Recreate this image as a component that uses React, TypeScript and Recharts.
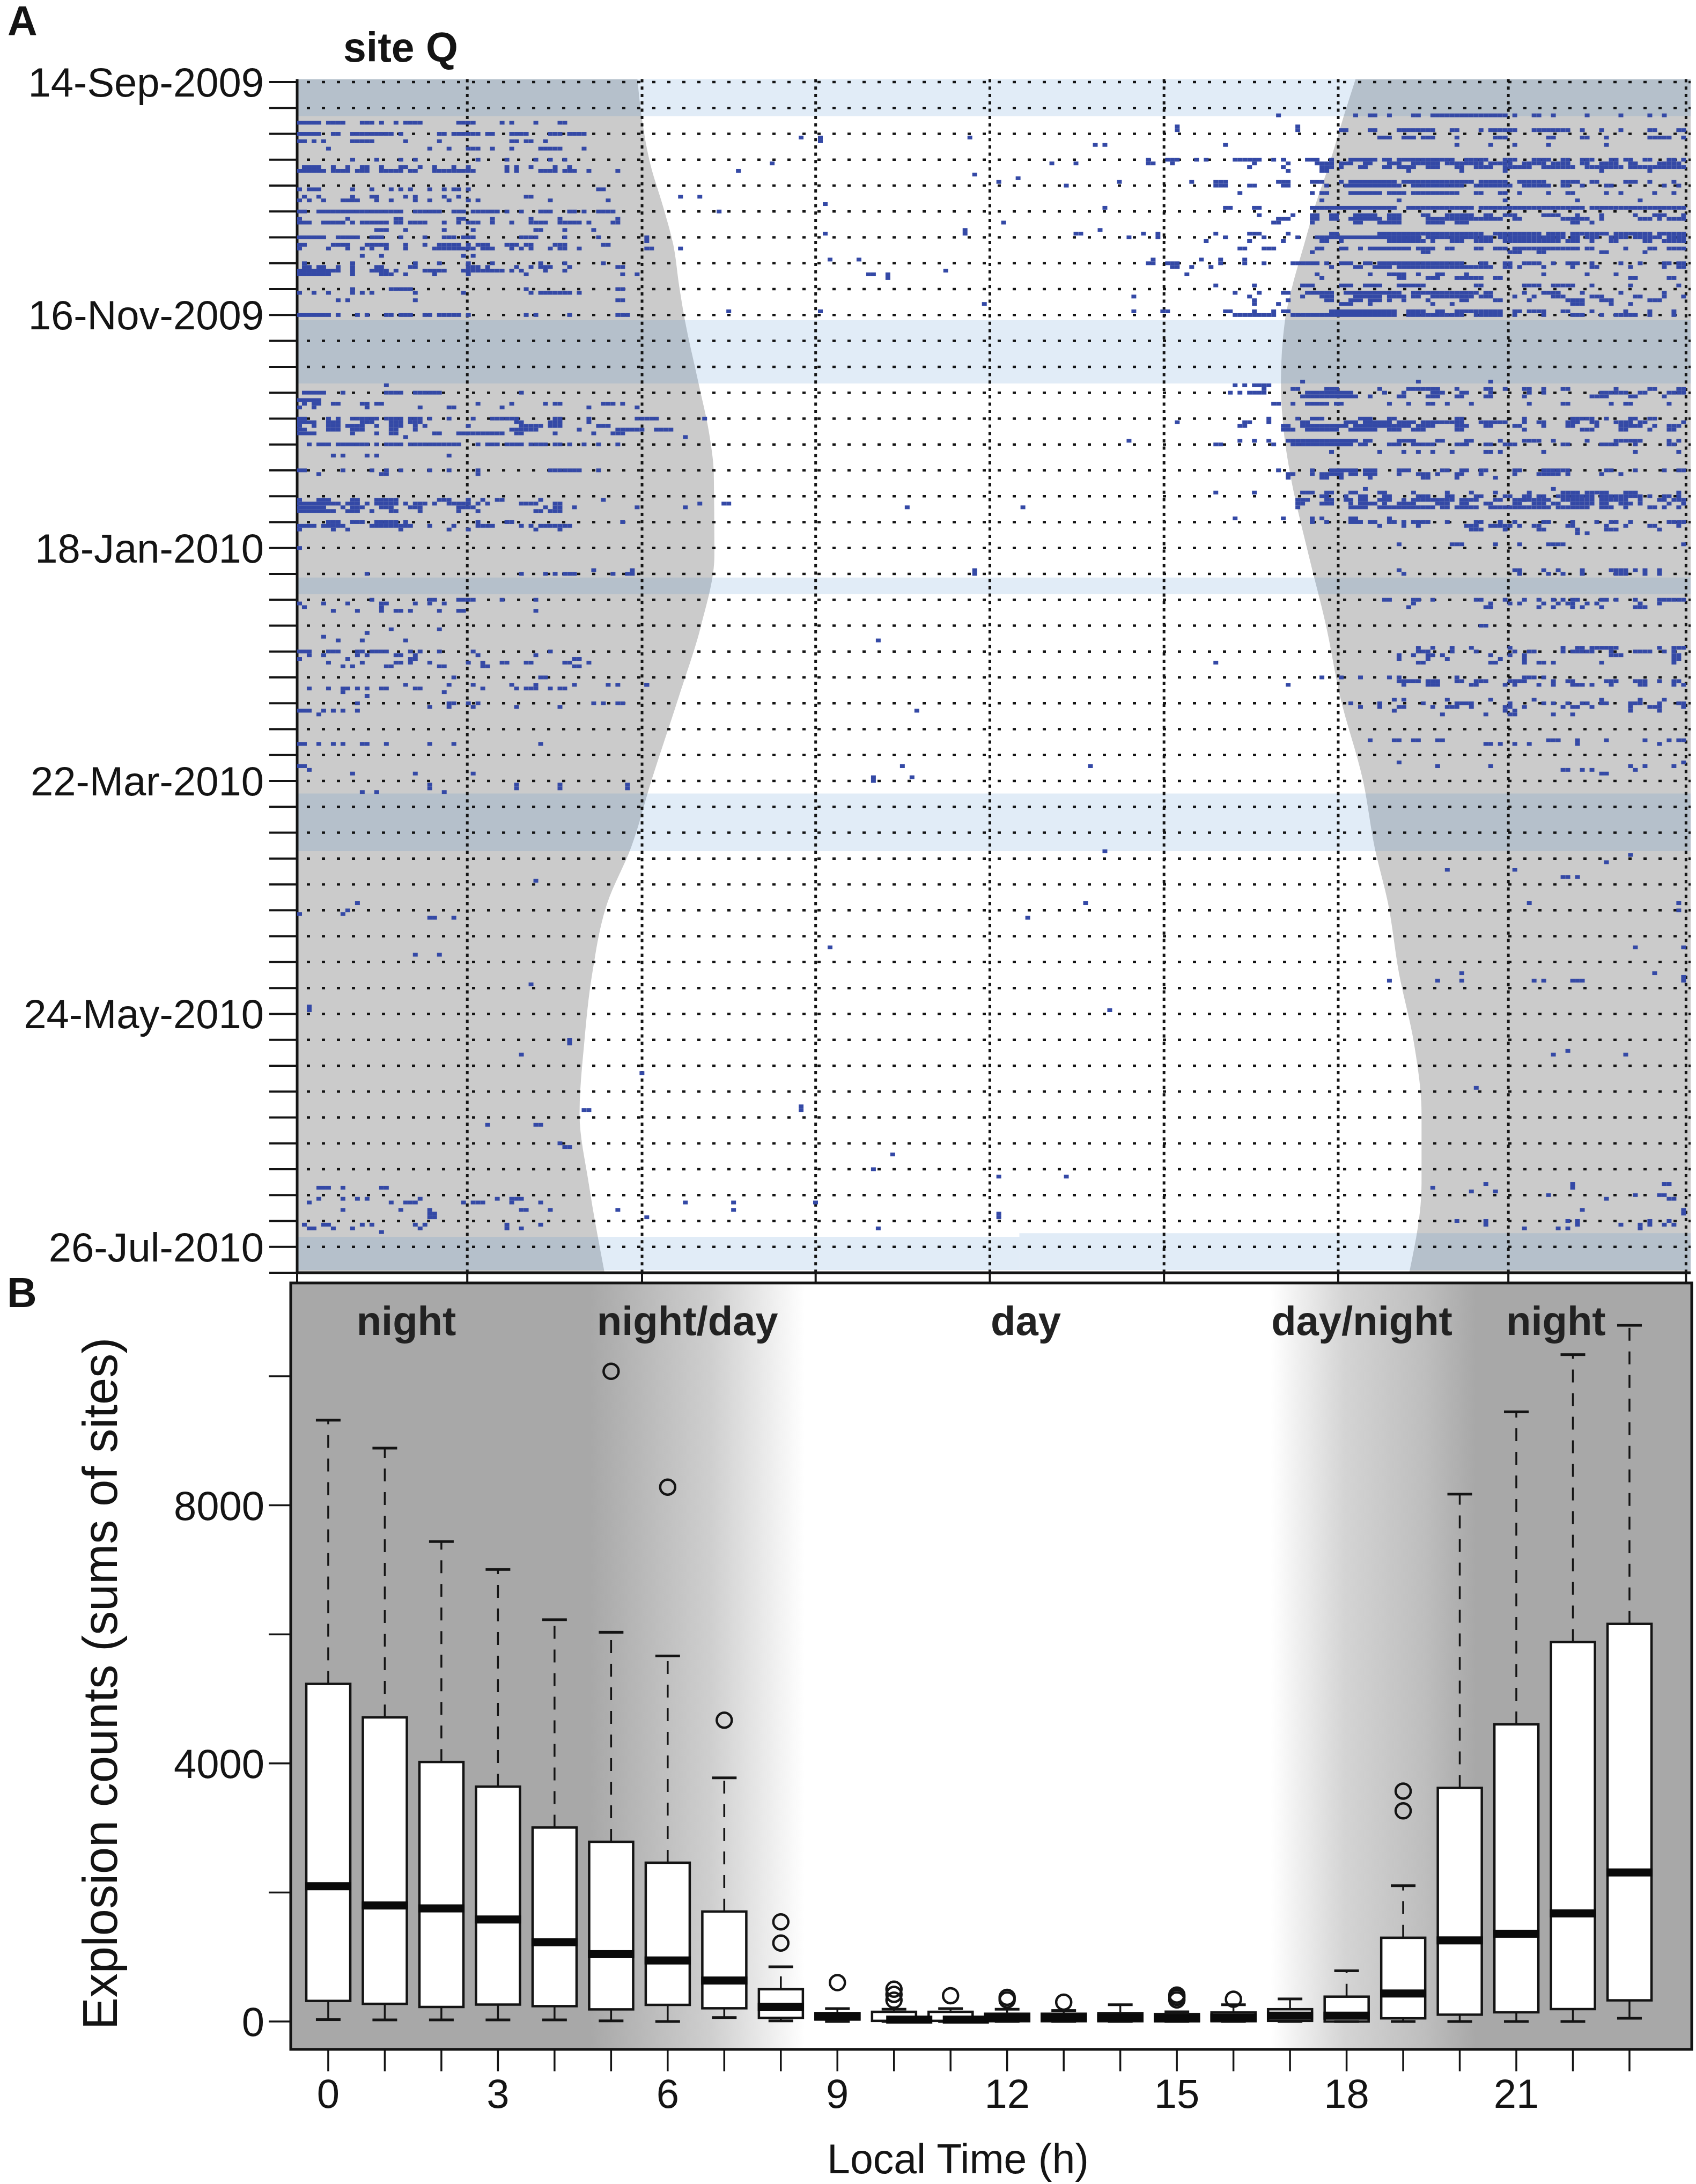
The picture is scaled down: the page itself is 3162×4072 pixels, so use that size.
import {
  Area,
  Bar,
  ComposedChart,
  ReferenceArea,
  ReferenceDot,
  ReferenceLine,
  Scatter,
  XAxis,
  YAxis,
} from "recharts";

const FONT = '"Liberation Sans", Arial, sans-serif';
const INK = "#141414";

// panel A: days since 14-Sep-2009 on y, local hour on x
const dateLabels: Record<number, string> = {
  0: "14-Sep-2009",
  63: "16-Nov-2009",
  126: "18-Jan-2010",
  189: "22-Mar-2010",
  252: "24-May-2010",
  315: "26-Jul-2010",
};
const weekTicks = [
  0, 7, 14, 21, 28, 35, 42, 49, 56, 63, 70, 77, 84, 91, 98, 105, 112, 119, 126, 133, 140, 147, 154,
  161, 168, 175, 182, 189, 196, 203, 210, 217, 224, 231, 238, 245, 252, 259, 266, 273, 280, 287, 294,
  301, 308, 315, 322,
];
const hourTicksA = [0, 2.94, 5.96, 8.96, 11.97, 14.98, 17.99, 20.93, 24];

const nightDays = [-0.8, 9, 22, 34, 44, 55, 64.4, 81, 96, 106, 128, 147, 166, 189, 207, 222, 241, 260, 279, 298, 321.8];
const sunrise = [5.88, 5.95, 6.1, 6.33, 6.5, 6.6, 6.7, 6.93, 7.13, 7.2, 7.21, 6.98, 6.6, 6.12, 5.77, 5.36, 5.1, 4.96, 4.88, 5.04, 5.31];
const sunset = [18.29, 18.09, 17.84, 17.58, 17.4, 17.2, 17.07, 17.0, 17.06, 17.16, 17.48, 17.78, 18.02, 18.42, 18.62, 18.85, 19.04, 19.3, 19.43, 19.43, 19.22];

// recording gaps: [first day, last day, first hour, last hour]
const gapBands = [
  [-0.8, 9.2, 0, 24.08],
  [64.4, 81.5, 0, 24.08],
  [134, 138.5, 0, 24.08],
  [192.4, 208, 0, 24.08],
  [312.3, 321.3, 0, 12.48],
  [311.3, 321.3, 12.48, 24.08],
];

// explosions per 5-min bin: [day, startBin, runLength, startBin, runLength, ...]
const eveningRuns = [
  [9, 203, 1, 219, 1, 222, 2, 226, 1, 231, 2, 235, 16, 252, 1, 256, 2, 260, 1, 267, 1, 274, 1, 280, 1, 283, 1],
  [12, 182, 1, 207, 1],
  [13, 182, 1, 207, 1, 216, 2, 222, 2, 228, 8, 239, 2, 245, 1, 247, 6, 256, 8, 266, 1, 270, 1, 274, 1, 280, 2, 286, 2],
  [15, 224, 3, 229, 3, 233, 3, 240, 1, 248, 3, 259, 2, 266, 2, 271, 1, 280, 5, 287, 1],
  [17, 192, 1, 240, 1, 247, 1, 252, 1, 259, 1, 271, 1],
  [21, 176, 1, 180, 3, 186, 1, 188, 1, 194, 4, 198, 2, 202, 1, 204, 1, 209, 3, 214, 1, 218, 6, 225, 2, 228, 12, 242, 5, 250, 3, 256, 4, 262, 2, 266, 3, 272, 2, 275, 2, 279, 2, 284, 2, 287, 1],
  [22, 176, 2, 181, 1, 198, 1, 205, 1, 211, 4, 216, 3, 221, 2, 226, 3, 231, 6, 238, 8, 247, 5, 254, 5, 260, 4, 266, 2, 270, 4, 276, 2, 282, 5],
  [23, 197, 1, 204, 1, 212, 3, 216, 1, 220, 2, 225, 2, 228, 4, 234, 3, 240, 2, 244, 4, 250, 6, 258, 7, 267, 8, 276, 10, 286, 2],
  [24, 205, 1, 212, 2, 230, 1, 241, 1, 250, 1, 270, 1, 280, 1],
  [27, 185, 1, 190, 3, 203, 3, 210, 3, 216, 1, 218, 10, 229, 15, 245, 6, 253, 5, 258, 1, 262, 4, 268, 2, 275, 3, 280, 1, 285, 1],
  [28, 190, 3, 197, 2, 204, 2, 213, 1, 217, 12, 231, 11, 244, 8, 254, 6, 262, 2, 266, 1, 271, 2, 283, 1, 286, 1],
  [30, 195, 1, 210, 1, 212, 2, 218, 7, 226, 4, 231, 10, 244, 2, 249, 2, 253, 1, 259, 1, 263, 2, 271, 1, 274, 1, 281, 1, 285, 1],
  [32, 212, 1, 228, 1, 250, 1, 265, 1, 278, 1],
  [34, 192, 2, 198, 2, 210, 2, 212, 16, 230, 14, 245, 22, 268, 20],
  [36, 199, 1, 206, 1, 210, 2, 214, 2, 219, 5, 226, 3, 233, 2, 238, 6, 246, 2, 250, 3, 258, 4, 265, 1, 270, 1, 277, 1, 281, 3, 287, 1],
  [37, 203, 3, 210, 2, 214, 2, 218, 7, 226, 3, 234, 16, 252, 2, 262, 6, 270, 1, 278, 3, 282, 1, 284, 4],
  [38, 202, 2, 210, 1, 219, 2, 224, 5, 234, 4, 240, 3, 264, 2, 268, 1],
  [41, 175, 1, 178, 1, 190, 1, 197, 3, 205, 1, 214, 2, 224, 8, 232, 14, 248, 10, 259, 4, 264, 8, 273, 3, 276, 5, 282, 6],
  [42, 172, 1, 178, 1, 192, 1, 200, 1, 207, 1, 211, 22, 234, 14, 249, 14, 264, 2, 267, 3, 272, 4, 277, 6, 284, 4],
  [43, 188, 1, 197, 1, 204, 1, 212, 2, 216, 1, 226, 8, 235, 1, 239, 3, 244, 4, 250, 12, 263, 3, 268, 1, 272, 2, 279, 2, 283, 5],
  [45, 195, 2, 200, 3, 211, 2, 216, 2, 220, 1, 222, 9, 232, 4, 238, 2, 244, 2, 248, 3, 252, 14, 267, 2, 275, 1, 280, 2, 284, 4],
  [46, 210, 1, 233, 2, 251, 3, 257, 2, 270, 2, 279, 1],
  [48, 177, 1, 187, 1, 191, 1, 196, 1],
  [49, 176, 2, 180, 3, 191, 1, 196, 1, 200, 1, 206, 6, 213, 1, 216, 3, 221, 2, 224, 18, 245, 2, 250, 2, 254, 4, 260, 1, 263, 3, 268, 1, 274, 1, 278, 1, 283, 2, 286, 2],
  [50, 181, 2, 185, 1, 189, 1, 214, 1, 219, 2, 223, 4, 228, 20, 250, 2, 253, 1, 258, 1, 264, 1, 268, 2, 276, 1, 283, 1, 286, 2],
  [52, 184, 1, 211, 1, 222, 1, 226, 4, 232, 1, 236, 2, 242, 1, 258, 1, 267, 1, 273, 1],
  [53, 212, 1, 228, 2, 234, 3, 240, 6, 248, 2, 276, 2, 284, 2],
  [55, 190, 1, 198, 1, 208, 3, 216, 3, 221, 4, 228, 6, 244, 2, 254, 4, 260, 5, 268, 1, 276, 1, 286, 1],
  [57, 194, 1, 199, 1, 204, 2, 209, 6, 217, 12, 231, 14, 246, 2, 254, 1, 258, 4, 266, 1, 274, 1, 283, 1],
  [58, 173, 1, 197, 1, 208, 1, 212, 3, 219, 6, 226, 4, 231, 2, 235, 9, 245, 3, 252, 1, 256, 1, 260, 3, 268, 3, 277, 2, 283, 1, 287, 1],
  [59, 198, 1, 205, 1, 213, 2, 218, 3, 222, 3, 226, 1, 229, 1, 234, 1, 241, 2, 248, 2, 255, 1, 263, 4, 270, 3, 280, 3],
  [60, 198, 1, 203, 1, 216, 3, 222, 1, 235, 1, 239, 1, 264, 3, 272, 1, 276, 1],
  [62, 173, 1, 179, 2, 192, 2, 198, 1, 202, 1, 204, 2, 214, 14, 230, 4, 236, 2, 240, 10, 252, 2, 255, 4, 262, 2, 268, 1, 275, 1, 280, 1, 285, 1],
  [63, 194, 3, 197, 6, 206, 22, 230, 12, 244, 6, 252, 1, 258, 1, 264, 3, 270, 1, 273, 5, 280, 1, 285, 1],
  [81, 208, 1, 232, 1, 247, 1],
  [82, 194, 1, 196, 1, 198, 4],
  [83, 200, 1, 206, 2, 213, 3, 224, 1, 230, 7, 240, 1, 246, 2, 250, 1, 254, 2, 258, 1, 262, 2, 273, 1, 280, 2, 286, 2],
  [84, 193, 1, 195, 1, 197, 4, 209, 10, 225, 1, 229, 1, 235, 3, 241, 2, 247, 1, 255, 1, 258, 1, 270, 6, 278, 2, 284, 4],
  [85, 208, 6, 214, 6, 222, 1, 228, 2, 234, 3, 240, 2, 246, 2, 254, 1, 268, 4, 276, 2, 283, 1],
  [87, 202, 2, 206, 1, 209, 5, 215, 2, 226, 1, 230, 1, 234, 2, 238, 1, 243, 1, 255, 1, 262, 2, 272, 1, 275, 2, 284, 1],
  [91, 201, 1, 207, 1, 210, 3, 220, 3, 226, 2, 240, 2, 254, 1, 264, 5, 271, 1, 276, 2, 280, 2],
  [92, 182, 1, 196, 2, 201, 1, 208, 2, 217, 3, 221, 6, 228, 4, 233, 9, 245, 6, 254, 1, 257, 2, 263, 3, 268, 2, 273, 4, 278, 2, 287, 1],
  [93, 195, 2, 204, 2, 208, 10, 219, 12, 232, 4, 240, 3, 246, 2, 252, 2, 258, 1, 263, 2, 269, 1, 274, 5, 281, 1, 284, 3],
  [94, 204, 3, 209, 7, 218, 6, 226, 3, 231, 3, 240, 2, 254, 1, 266, 3, 274, 2, 280, 1, 284, 2],
  [97, 172, 1, 195, 1, 198, 1, 201, 1, 205, 3, 208, 12, 221, 2, 228, 4, 236, 2, 242, 2, 249, 1, 254, 4, 260, 1, 267, 1, 273, 4, 277, 2, 284, 1, 286, 1],
  [98, 190, 2, 202, 1, 206, 13, 220, 2, 226, 3, 231, 5, 240, 3, 246, 2, 250, 3, 262, 2, 270, 4, 277, 1, 284, 2],
  [100, 214, 1, 224, 1, 229, 1, 232, 1, 235, 1, 239, 1, 246, 2, 249, 1, 258, 1, 277, 1, 286, 1],
  [105, 203, 1, 210, 1, 214, 6, 221, 3, 228, 2, 230, 1, 237, 2, 241, 2, 245, 2, 252, 1, 253, 1, 258, 5, 263, 1, 271, 2, 277, 1, 283, 1, 286, 2],
  [106, 205, 2, 210, 1, 212, 5, 218, 2, 221, 3, 228, 1, 232, 3, 236, 1, 240, 2, 245, 1, 252, 1, 257, 5, 263, 1, 270, 1, 274, 1],
  [107, 205, 1, 212, 2, 216, 1, 222, 1, 233, 2, 240, 1, 248, 1],
  [110, 221, 1, 260, 1],
  [111, 190, 1, 198, 1, 208, 3, 213, 2, 218, 2, 224, 2, 231, 1, 238, 1, 243, 1, 248, 1, 255, 1, 262, 4, 267, 5, 275, 3, 286, 1],
  [112, 212, 2, 217, 1, 220, 2, 225, 2, 232, 3, 238, 2, 244, 2, 250, 2, 254, 2, 257, 2, 261, 8, 270, 6, 276, 3, 280, 1, 283, 2, 286, 1],
  [113, 207, 3, 213, 2, 217, 2, 220, 2, 224, 3, 229, 1, 231, 2, 233, 7, 241, 4, 248, 2, 252, 3, 254, 6, 262, 7, 270, 6, 278, 1, 282, 2, 285, 3],
  [114, 207, 2, 212, 3, 218, 1, 220, 4, 225, 1, 228, 4, 236, 3, 241, 2, 246, 2, 252, 2, 256, 3, 260, 2, 264, 5, 270, 2, 274, 3, 278, 1, 284, 1, 287, 1],
  [115, 207, 1, 218, 4, 224, 12, 237, 2, 240, 5, 247, 5, 252, 8, 261, 7, 270, 3, 275, 1, 280, 2, 283, 1, 286, 1],
  [118, 194, 1, 204, 1, 210, 1, 212, 1, 218, 2, 226, 1],
  [119, 210, 1, 213, 1, 218, 3, 222, 2, 226, 2, 229, 1, 231, 3, 234, 1, 238, 1, 244, 2, 249, 1, 252, 1, 258, 2, 264, 1, 269, 1, 272, 2, 276, 1, 284, 4],
  [120, 224, 1, 229, 1, 232, 1, 242, 3, 247, 5, 253, 1, 256, 2, 263, 2, 271, 1, 275, 1, 280, 2, 286, 1],
  [121, 243, 3, 250, 1, 257, 2, 265, 1, 271, 3, 282, 1],
  [122, 265, 1, 267, 1],
  [125, 228, 1, 239, 3, 248, 1, 253, 1, 259, 4, 287, 1],
  [132, 228, 1, 252, 2, 258, 1, 261, 1, 266, 1, 272, 4, 277, 1, 279, 1, 282, 1],
  [133, 229, 1, 253, 1, 259, 1, 262, 1, 266, 1, 273, 3, 279, 1, 282, 1],
  [140, 225, 2, 231, 2, 235, 1, 244, 2, 250, 1, 254, 1, 257, 1, 260, 1, 262, 1, 264, 2, 270, 2, 273, 1, 277, 1, 282, 3, 285, 3],
  [141, 231, 1, 247, 1, 251, 1, 253, 1, 258, 1, 261, 1, 263, 2, 267, 1, 269, 1, 278, 1, 282, 1],
  [142, 230, 1, 246, 2, 257, 1, 260, 1, 264, 1, 266, 1, 270, 1, 277, 3],
  [147, 245, 2],
  [153, 232, 1, 235, 1, 239, 1, 243, 1, 251, 1, 262, 1, 265, 2, 268, 6, 282, 1, 285, 2, 287, 1],
  [154, 232, 3, 239, 1, 244, 1, 252, 1, 255, 2, 262, 1, 264, 5, 272, 1, 277, 4, 283, 1, 285, 1],
  [155, 228, 1, 231, 1, 234, 2, 237, 1, 247, 1, 251, 1, 254, 1, 272, 3, 285, 2],
  [156, 228, 1, 234, 1, 238, 1, 249, 1, 254, 1, 285, 2],
  [157, 232, 2, 247, 2, 254, 1, 257, 2, 260, 1, 270, 1, 285, 1],
  [161, 212, 1, 216, 1, 220, 1, 226, 1, 228, 1, 240, 1, 254, 3, 258, 1],
  [162, 228, 5, 234, 3, 240, 2, 244, 3, 251, 4, 260, 1, 263, 2, 271, 3, 277, 3, 282, 1, 285, 2],
  [163, 229, 1, 234, 3, 243, 2, 250, 1, 252, 1, 257, 1, 260, 1, 264, 3, 268, 1, 272, 1, 278, 2, 285, 1, 287, 1],
  [167, 227, 1, 229, 1, 238, 1, 247, 1, 256, 1, 270, 1, 278, 1, 283, 1],
  [168, 218, 1, 224, 1, 233, 1, 240, 4, 251, 1, 258, 1, 260, 1, 263, 1, 266, 2, 270, 2, 276, 3, 282, 1, 286, 2],
  [169, 220, 1, 224, 1, 228, 2, 235, 1, 238, 3, 243, 1, 250, 2, 254, 1, 262, 1, 264, 2, 268, 1, 276, 1, 280, 3, 287, 1],
  [170, 227, 1, 250, 1, 252, 1, 276, 1, 282, 1],
  [171, 237, 1, 246, 1, 251, 2, 260, 1, 264, 1],
  [178, 222, 1, 227, 2, 231, 2, 236, 2, 259, 3, 265, 1, 271, 1, 279, 1, 284, 1, 286, 2],
  [179, 246, 2, 249, 1, 252, 1, 255, 1, 265, 1, 282, 1],
  [184, 228, 1, 287, 1],
  [185, 236, 1, 247, 1, 276, 1, 279, 1, 285, 1],
  [186, 262, 2, 266, 1, 268, 1, 277, 1],
  [187, 270, 2],
  [209, 276, 1],
  [211, 271, 1],
  [213, 238, 1, 252, 1],
  [215, 262, 2, 265, 1],
  [222, 255, 1, 286, 1],
  [224, 286, 1],
  [234, 277, 1, 287, 1],
  [241, 241, 1, 281, 1],
  [242, 287, 1],
  [243, 226, 1, 236, 1, 241, 1, 256, 1, 258, 1, 264, 3, 287, 1],
  [262, 263, 1],
  [263, 260, 1, 275, 1],
  [272, 244, 1],
  [298, 246, 1, 264, 1, 283, 1, 284, 1],
  [299, 235, 1, 264, 1],
  [300, 243, 1, 248, 1],
  [301, 259, 1, 277, 1, 282, 2],
  [302, 271, 1, 284, 2],
  [305, 266, 1, 287, 1],
  [306, 287, 1],
  [308, 240, 1, 246, 1, 263, 1, 265, 1, 280, 1, 284, 1],
  [309, 246, 1, 265, 1, 274, 1, 278, 1, 280, 1, 283, 1, 285, 1],
  [310, 254, 1, 261, 1, 263, 1, 278, 1],
];

const morningRuns = [
  [11, 0, 5, 6, 4, 13, 3, 17, 1, 20, 1, 22, 4, 33, 4, 42, 1, 44, 1, 49, 1, 54, 2],
  [14, 0, 5, 7, 2, 11, 9, 21, 1, 29, 2, 32, 6, 39, 2, 44, 4, 52, 3, 56, 4],
  [16, 0, 2, 3, 1, 5, 1, 11, 2, 13, 3, 22, 1, 29, 1, 44, 2, 47, 2, 51, 1],
  [18, 6, 1, 27, 1, 31, 1, 35, 3, 40, 1, 44, 1, 50, 5, 59, 1],
  [21, 11, 1, 16, 1, 21, 1, 24, 1, 37, 1, 43, 1, 49, 1, 52, 1, 55, 1],
  [23, 1, 4, 7, 1, 10, 1, 13, 2, 17, 1, 21, 2, 25, 1, 28, 1, 32, 1, 35, 1, 43, 1, 45, 1, 48, 1, 53, 1, 56, 1],
  [24, 0, 6, 7, 4, 12, 3, 17, 5, 23, 2, 28, 8, 36, 1, 43, 1, 45, 1, 50, 4, 55, 3, 60, 1, 66, 1],
  [29, 0, 1, 2, 3, 11, 1, 15, 1, 19, 1, 21, 1, 23, 1, 27, 1, 30, 1, 32, 2, 35, 1, 62, 2],
  [31, 1, 1, 4, 1, 11, 1, 15, 2, 22, 1, 24, 1, 30, 1, 33, 1, 47, 2, 79, 1, 83, 1],
  [32, 0, 1, 2, 1, 5, 1, 9, 4, 16, 1, 19, 1, 24, 1, 27, 1, 31, 1, 35, 1, 37, 1, 52, 1, 64, 1],
  [35, 0, 2, 4, 18, 24, 6, 32, 3, 36, 5, 41, 1, 43, 1, 46, 1, 50, 3, 56, 2, 59, 1, 62, 4, 87, 1],
  [37, 0, 1, 10, 1, 20, 2, 33, 2, 40, 1, 48, 1, 54, 1, 66, 1],
  [38, 0, 3, 5, 5, 11, 1, 13, 6, 20, 2, 23, 3, 26, 1, 30, 1, 33, 1, 35, 3, 40, 1, 44, 1, 48, 4, 54, 3, 57, 2, 60, 1, 65, 2],
  [40, 16, 3, 22, 1, 30, 1, 36, 1, 49, 2, 55, 1, 61, 1],
  [42, 0, 6, 8, 5, 15, 3, 21, 1, 26, 1, 30, 3, 34, 3, 46, 4, 55, 1, 62, 1, 72, 1],
  [43, 72, 1],
  [44, 0, 2, 7, 3, 10, 1, 14, 4, 18, 1, 22, 1, 26, 1, 29, 5, 35, 1, 37, 3, 43, 3, 47, 2, 53, 3, 63, 2],
  [45, 0, 1, 6, 1, 10, 1, 13, 1, 15, 1, 18, 1, 22, 1, 28, 9, 38, 3, 44, 1, 46, 1, 48, 1, 52, 1, 54, 2, 58, 1, 72, 2, 79, 1],
  [47, 13, 1, 17, 1, 34, 1, 36, 1],
  [49, 1, 1, 11, 1, 24, 1, 29, 1, 35, 1, 40, 1, 50, 1, 55, 1, 63, 1],
  [50, 1, 2, 4, 2, 8, 1, 11, 1, 16, 2, 23, 2, 35, 3, 39, 1, 45, 1, 48, 1, 50, 3, 56, 1, 66, 2],
  [51, 0, 9, 11, 1, 15, 4, 20, 1, 26, 5, 34, 2, 36, 4, 40, 3, 44, 1, 46, 1, 51, 1, 55, 1],
  [52, 0, 7, 11, 1, 17, 3, 22, 1, 28, 1, 35, 1, 47, 1, 67, 1, 70, 1],
  [56, 11, 1, 19, 5, 47, 1, 66, 2],
  [57, 0, 1, 3, 1, 6, 1, 11, 1, 13, 1, 15, 1, 24, 1, 34, 1, 48, 1, 50, 7, 58, 1],
  [59, 8, 1, 10, 1, 24, 1, 66, 2],
  [63, 0, 7, 8, 1, 12, 1, 14, 1, 18, 2, 21, 2, 23, 1, 26, 2, 29, 5, 35, 1, 47, 1, 49, 1, 56, 1, 66, 3],
  [82, 18, 1],
  [84, 1, 5, 9, 1, 18, 1, 19, 3, 24, 5, 29, 1, 46, 1],
  [86, 0, 5],
  [87, 1, 1, 3, 2, 7, 2, 13, 2, 16, 2, 37, 1, 44, 1, 51, 1, 53, 2, 63, 2, 65, 1, 67, 1],
  [88, 0, 1, 3, 1, 14, 1, 25, 1, 31, 2, 42, 1, 60, 1, 70, 1],
  [91, 0, 2, 6, 1, 8, 1, 11, 6, 18, 1, 19, 3, 23, 3, 27, 1, 31, 1, 36, 1, 40, 6, 53, 2, 60, 1, 70, 5, 84, 1],
  [92, 0, 4, 6, 3, 13, 3, 19, 3, 23, 3, 45, 2, 52, 3, 60, 1],
  [93, 0, 1, 3, 1, 6, 3, 10, 4, 16, 1, 19, 3, 24, 1, 26, 1, 35, 1, 46, 5, 52, 3, 62, 3],
  [94, 0, 2, 6, 3, 11, 3, 19, 2, 24, 1, 44, 6, 58, 1, 66, 6, 74, 4],
  [95, 0, 4, 11, 1, 16, 1, 19, 2, 28, 2, 33, 10, 45, 2, 53, 1, 61, 1, 65, 3],
  [96, 22, 1, 80, 1],
  [98, 2, 1, 4, 3, 8, 7, 16, 1, 18, 3, 21, 1, 23, 4, 27, 7, 37, 1, 39, 3, 43, 4, 48, 4, 53, 2, 56, 1, 59, 1, 62, 1, 66, 1],
  [101, 7, 1, 9, 1, 14, 1, 16, 1, 31, 1],
  [105, 0, 2, 9, 1, 15, 1, 18, 1, 21, 1, 27, 1, 31, 1, 37, 1, 52, 7, 62, 1],
  [106, 4, 1, 17, 2, 37, 1],
  [113, 0, 1, 4, 3, 11, 2, 16, 5, 29, 3, 35, 1, 38, 1, 41, 2, 50, 1, 63, 1],
  [114, 0, 9, 10, 3, 14, 1, 16, 5, 22, 1, 24, 3, 28, 1, 31, 5, 37, 1, 39, 1, 46, 4, 53, 2, 83, 1, 88, 2],
  [115, 0, 6, 9, 1, 11, 3, 17, 3, 23, 3, 33, 4, 51, 1, 53, 2, 57, 1, 70, 1, 80, 1],
  [116, 0, 8, 10, 3, 15, 1, 19, 2, 25, 1, 33, 1, 37, 1, 49, 2, 52, 3],
  [119, 6, 3, 11, 3, 16, 5, 22, 1, 37, 1, 43, 2, 67, 1],
  [120, 0, 4, 5, 5, 15, 9, 27, 1, 32, 1, 37, 4, 46, 1, 48, 1, 50, 7],
  [121, 0, 1, 7, 1, 10, 1, 21, 1, 31, 1, 35, 1, 49, 1, 54, 1],
  [126, 0, 1],
  [132, 61, 1, 69, 1],
  [133, 14, 1, 46, 1, 51, 1, 53, 1, 55, 2, 57, 1, 65, 1, 68, 2],
  [140, 15, 1, 27, 2, 33, 4, 42, 1, 49, 1],
  [141, 0, 1, 5, 1, 10, 1, 17, 1, 18, 1, 24, 1, 27, 1, 30, 1],
  [142, 1, 1, 17, 1],
  [143, 7, 1, 12, 1, 17, 1, 20, 2, 23, 1, 29, 1, 33, 2, 49, 1],
  [148, 19, 1, 29, 1],
  [149, 14, 1],
  [150, 5, 1],
  [151, 8, 1, 13, 1, 22, 1],
  [154, 0, 3, 6, 3, 12, 2, 15, 4, 23, 1, 25, 1, 29, 1, 36, 1, 52, 1],
  [155, 2, 1, 5, 1, 12, 1, 14, 1, 20, 1, 21, 1, 24, 1, 37, 1, 49, 1],
  [156, 0, 1, 10, 1, 23, 2, 57, 2],
  [157, 6, 1, 13, 1, 20, 2, 23, 1, 27, 1, 35, 1, 38, 1, 42, 2, 47, 2, 55, 2, 60, 1],
  [158, 9, 1, 11, 1, 18, 2, 29, 2, 38, 2, 57, 2],
  [161, 32, 1, 50, 2],
  [163, 22, 1, 31, 1, 36, 1, 44, 1, 49, 1, 57, 1, 64, 1, 66, 1, 72, 1],
  [164, 2, 1, 6, 1, 9, 2, 12, 1, 14, 1, 17, 2, 24, 2, 38, 1, 45, 1, 47, 2, 49, 1, 52, 1, 54, 2],
  [165, 9, 1, 30, 1],
  [166, 14, 1],
  [168, 12, 1, 31, 1, 32, 1, 35, 1, 37, 1, 61, 1, 63, 1, 66, 2],
  [169, 27, 1, 31, 1, 36, 1, 45, 1, 54, 1],
  [170, 0, 3, 5, 1, 7, 1, 9, 1, 12, 1],
  [171, 4, 1],
  [179, 0, 1, 1, 1, 4, 1, 7, 1, 9, 1, 13, 2, 18, 1, 27, 1, 32, 1, 50, 1],
  [185, 0, 2],
  [186, 2, 1],
  [187, 11, 1, 24, 1, 36, 1],
  [190, 27, 1, 45, 1, 54, 1, 68, 1],
  [191, 27, 1, 45, 1, 54, 1, 68, 1],
  [192, 13, 1, 16, 1, 30, 1],
  [216, 49, 1],
  [222, 12, 1],
  [224, 10, 1],
  [225, 0, 1, 9, 1],
  [226, 27, 2, 32, 1],
  [236, 24, 1, 29, 1],
  [244, 48, 1],
  [250, 2, 1],
  [251, 2, 1],
  [259, 56, 1],
  [260, 56, 1],
  [263, 46, 1],
  [268, 71, 1],
  [278, 59, 2],
  [282, 39, 1, 49, 2],
  [287, 54, 1],
  [288, 55, 2],
  [299, 4, 3, 9, 1, 17, 2],
  [302, 4, 1, 9, 1, 12, 1, 14, 1, 25, 1, 41, 1, 44, 3],
  [303, 2, 1, 19, 1, 22, 3, 34, 1, 36, 3, 44, 1, 50, 1, 80, 1, 90, 1, 107, 1],
  [305, 9, 1, 21, 1, 27, 1, 46, 2, 52, 1, 66, 1, 90, 1],
  [306, 27, 2],
  [307, 27, 2, 72, 1],
  [309, 1, 1, 5, 2, 13, 1, 15, 1, 24, 1, 26, 1, 43, 1, 50, 1],
  [310, 2, 2, 7, 1, 11, 1, 25, 1, 43, 1, 46, 1, 120, 1],
  [311, 17, 1],
];

// isolated daytime cells: [day, bin]
const dayCells = [
  [15, 104], [15, 108], [16, 108], [15, 139], [22, 98], [24, 91], [25, 140], [27, 145], [26, 149], [22, 156], [22, 161],
  [17, 165], [17, 167], [28, 159], [27, 170], [33, 109], [34, 167], [38, 146], [41, 161], [41, 162], [40, 166], [41, 109],
  [40, 138], [41, 138], [48, 110], [48, 116], [51, 134], [52, 118], [52, 119], [52, 122], [53, 122], [60, 142], [62, 89], [62, 108],
  [115, 126], [115, 150], [132, 140], [133, 140], [151, 120], [157, 190], [163, 205], [163, 72], [170, 128], [185, 125], [185, 164],
  [188, 119], [189, 119], [188, 127], [208, 167], [222, 163], [226, 151], [251, 168], [234, 110], [277, 104], [278, 104], [290, 123],
  [294, 119], [296, 145], [296, 159], [306, 145], [307, 145],
];

// panel B: hourly box statistics
const hours = [0, 1, 2, 3, 4, 5, 6, 7, 8, 9, 10, 11, 12, 13, 14, 15, 16, 17, 18, 19, 20, 21, 22, 23];
const whiskerHigh = [9319, 8886, 7438, 7005, 6227, 6032, 5665, 3776, 848, 200, 190, 200, 190, 170, 260, 150, 260, 350, 786, 2105, 8173, 9449, 10335, 10789];
const boxTop = [5232, 4713, 4022, 3640, 3006, 2785, 2461, 1704, 500, 130, 150, 150, 120, 120, 130, 115, 140, 190, 385, 1298, 3620, 4605, 5881, 6162];
const medians = [2097, 1798, 1753, 1581, 1229, 1044, 946, 635, 229, 80, 30, 30, 60, 60, 60, 50, 60, 90, 90, 434, 1257, 1360, 1675, 2310];
const boxBottom = [319, 274, 225, 262, 238, 188, 258, 205, 57, 30, 10, 10, 5, 5, 5, 5, 5, 10, 0, 49, 106, 143, 192, 328];
const whiskerLow = [29, 25, 25, 25, 25, 10, 0, 61, 10, 0, 0, 0, 0, 0, 0, 0, 0, 0, 0, 0, 0, 0, 0, 50];
// the medians of 10 h and 11 h sit off-centre in the source figure
const medianHours = [0, 1, 2, 3, 4, 5, 6, 7, 8, 9, 10.27, 11.27, 12, 13, 14, 15, 16, 17, 18, 19, 20, 21, 22, 23];
const outlierHours = [5, 6, 7, 8, 8, 9, 10, 10, 10, 11, 12, 12, 13, 15, 15, 15, 16, 19, 19];
const outlierValues = [10076, 8281, 4670, 1216, 1544, 602, 330, 420, 500, 400, 335, 375, 300, 335, 375, 410, 345, 3264, 3570];

const phaseLabels = [
  { hour: 1.38, text: "night" },
  { hour: 6.35, text: "night/day" },
  { hour: 12.33, text: "day" },
  { hour: 18.27, text: "day/night" },
  { hour: 21.7, text: "night" },
];
const phaseLabelLevel = 10865;

const nightRows = nightDays.map((day, i) => ({ day, sunrise: sunrise[i], sunset: sunset[i] }));

const eventCells = [...eveningRuns, ...morningRuns].flatMap(([day, ...runs]) => {
  const cells: { day: number; hour: number }[] = [];
  for (let i = 0; i < runs.length; i += 2) {
    for (let b = runs[i]; b < runs[i] + runs[i + 1]; b++) {
      cells.push({ day, hour: (b + 0.5) / 12 });
    }
  }
  return cells;
});
const eventData = [...eventCells, ...dayCells.map(([day, bin]) => ({ day, hour: (bin + 0.5) / 12 }))];

const boxRows = hours.map((hour, i) => ({
  hour,
  high: whiskerHigh[i],
  top: boxTop[i],
  median: medians[i],
  bottom: boxBottom[i],
  low: whiskerLow[i],
}));
const medianData = medianHours.map((hour, i) => ({ hour, median: medians[i] }));
const outlierData = outlierHours.map((hour, i) => ({ hour, value: outlierValues[i] }));

const EventCell = (p: any) => <rect x={p.cx - 4.5} y={p.cy - 3.5} width={9} height={7} fill="#3449a6" />;
const Cap = (p: any) => <rect x={p.cx - 23} y={p.cy - 2.5} width={46} height={5} fill={INK} />;
const MedianBar = (p: any) => <rect x={p.cx - 43} y={p.cy - 7.5} width={86} height={15} fill="#0a0a0a" />;
const Outlier = (p: any) => <circle cx={p.cx} cy={p.cy} r={14} fill="none" stroke={INK} strokeWidth={4.5} />;
// the numeric axis squeezes barSize, so the box keeps the scaled y and height but its own width
const BoxShape = (p: any) => (
  <rect
    x={p.x + p.width / 2 - 41}
    y={p.y}
    width={82}
    height={p.height}
    fill="#ffffff"
    stroke={INK}
    strokeWidth={4.5}
  />
);

function PanelA() {
  return (
    <ComposedChart
      width={3162}
      height={2400}
      layout="vertical"
      data={nightRows}
      margin={{ top: 147.5, right: 10, bottom: 0, left: 0 }}
      style={{ position: "absolute", left: 0, top: 0 }}
    >
      <XAxis
        type="number"
        domain={[0, 24.08]}
        ticks={hourTicksA}
        interval={0}
        allowDataOverflow
        height={27}
        tickSize={19}
        tickFormatter={() => ""}
        tickLine={{ stroke: INK, strokeWidth: 4 }}
        axisLine={{ stroke: INK, strokeWidth: 5 }}
      />
      <YAxis
        type="number"
        dataKey="day"
        domain={[-0.8, 322]}
        ticks={weekTicks}
        interval={0}
        allowDataOverflow
        width={554}
        tickSize={52}
        tickMargin={10}
        tick={{ fontSize: 76, fill: INK }}
        tickFormatter={(d: number) => dateLabels[d] ?? ""}
        tickLine={{ stroke: INK, strokeWidth: 4 }}
        axisLine={{ stroke: INK, strokeWidth: 5 }}
      />
      <Area
        type="monotone"
        dataKey={(d: any) => [0, d.sunrise]}
        fill="#cbcbcb"
        fillOpacity={1}
        stroke="none"
        isAnimationActive={false}
      />
      <Area
        type="monotone"
        dataKey={(d: any) => [d.sunset, 24.08]}
        fill="#cbcbcb"
        fillOpacity={1}
        stroke="none"
        isAnimationActive={false}
      />
      {gapBands.map(([y1, y2, x1, x2]) => (
        <ReferenceArea
          key={`${y1}-${x1}`}
          x1={x1}
          x2={x2}
          y1={y1}
          y2={y2}
          fill="#4f8fd0"
          fillOpacity={0.17}
          stroke="none"
        />
      ))}
      <Scatter data={eventData} dataKey="hour" shape={EventCell} isAnimationActive={false} />
      {weekTicks.slice(0, -1).map((d) => (
        <ReferenceLine key={d} y={d} stroke={INK} strokeWidth={4.5} strokeDasharray="6 22" strokeDashoffset={-18} />
      ))}
      {hourTicksA.slice(1).map((h) => (
        <ReferenceLine key={h} x={h} stroke={INK} strokeWidth={5} strokeDasharray="6 7.7" />
      ))}
    </ComposedChart>
  );
}

function PanelB() {
  return (
    <ComposedChart
      width={3162}
      height={1692}
      data={boxRows}
      margin={{ top: 12, right: 8, bottom: 0, left: 0 }}
      style={{ position: "absolute", left: 0, top: 2380 }}
    >
      <defs>
        <linearGradient id="dayNight" x1="0" y1="0" x2="1" y2="0">
          <stop offset="0" stopColor="#a8a8a8" />
          <stop offset="0.2136" stopColor="#a8a8a8" />
          <stop offset="0.3005" stopColor="#cfcfcf" />
          <stop offset="0.3668" stopColor="#ffffff" />
          <stop offset="0.6998" stopColor="#ffffff" />
          <stop offset="0.7523" stopColor="#d4d4d4" />
          <stop offset="0.809" stopColor="#bebebe" />
          <stop offset="0.8457" stopColor="#a8a8a8" />
          <stop offset="1" stopColor="#a8a8a8" />
        </linearGradient>
      </defs>
      <XAxis
        type="number"
        dataKey="hour"
        domain={[-0.663, 24.1]}
        ticks={hours}
        interval={0}
        allowDataOverflow
        height={251}
        tickSize={41}
        tickMargin={14}
        tick={{ fontSize: 76, fill: INK }}
        tickFormatter={(h: number) => (h % 3 === 0 ? String(h) : "")}
        tickLine={{ stroke: INK, strokeWidth: 3.5 }}
        axisLine={false}
        label={{ value: "Local Time (h)", position: "insideBottom", offset: 20, dx: -62, fontSize: 77, fill: INK }}
      />
      <YAxis
        type="number"
        domain={[-432, 11446]}
        ticks={[0, 2000, 4000, 6000, 8000, 10000]}
        interval={0}
        allowDataOverflow
        width={542}
        tickSize={41}
        tickMargin={8}
        tick={{ fontSize: 76, fill: INK }}
        tickFormatter={(v: number) => (v % 4000 === 0 ? String(v) : "")}
        tickLine={{ stroke: INK, strokeWidth: 3.5 }}
        axisLine={false}
      />
      <ReferenceArea
        x1={-0.663}
        x2={24.1}
        y1={-432}
        y2={11446}
        fill="url(#dayNight)"
        fillOpacity={1}
        stroke={INK}
        strokeWidth={5}
      />
      {boxRows.map((r) => (
        <ReferenceLine
          key={`hi${r.hour}`}
          segment={[
            { x: r.hour, y: r.top },
            { x: r.hour, y: r.high },
          ]}
          stroke={INK}
          strokeWidth={3.5}
          strokeDasharray="24 20"
        />
      ))}
      {boxRows.map((r) => (
        <ReferenceLine
          key={`lo${r.hour}`}
          segment={[
            { x: r.hour, y: r.low },
            { x: r.hour, y: r.bottom },
          ]}
          stroke={INK}
          strokeWidth={3.5}
        />
      ))}
      <Bar dataKey={(d: any) => [d.bottom, d.top]} shape={BoxShape} isAnimationActive={false} />
      <Scatter dataKey="high" shape={Cap} isAnimationActive={false} />
      <Scatter dataKey="low" shape={Cap} isAnimationActive={false} />
      <Scatter data={medianData} dataKey="median" shape={MedianBar} isAnimationActive={false} />
      <Scatter data={outlierData} dataKey="value" shape={Outlier} isAnimationActive={false} />
      {phaseLabels.map((p, i) => (
        <ReferenceDot
          key={i}
          x={p.hour}
          y={phaseLabelLevel}
          r={0}
          fill="none"
          stroke="none"
          label={{ value: p.text, position: "center", fontSize: 76, fontWeight: 700, fill: "#222" }}
        />
      ))}
    </ComposedChart>
  );
}

export default function App() {
  const heading = { position: "absolute" as const, fontWeight: 700, fontSize: 77, lineHeight: 1, color: INK };
  return (
    <div
      style={{ position: "absolute", left: 0, top: 0, width: 3162, height: 4072, background: "#fff", fontFamily: FONT, overflow: "hidden" }}
    >
      <PanelA />
      <PanelB />
      <div style={{ ...heading, left: 14, top: 1 }}>A</div>
      <div style={{ ...heading, left: 640, top: 50 }}>site Q</div>
      <div style={{ ...heading, left: 13, top: 2372 }}>B</div>
      <div
        style={{
          position: "absolute",
          left: 187,
          top: 3139,
          fontSize: 90,
          lineHeight: 1,
          color: INK,
          whiteSpace: "nowrap",
          transform: "translate(-50%, -50%) rotate(-90deg)",
        }}
      >
        Explosion counts (sums of sites)
      </div>
    </div>
  );
}
